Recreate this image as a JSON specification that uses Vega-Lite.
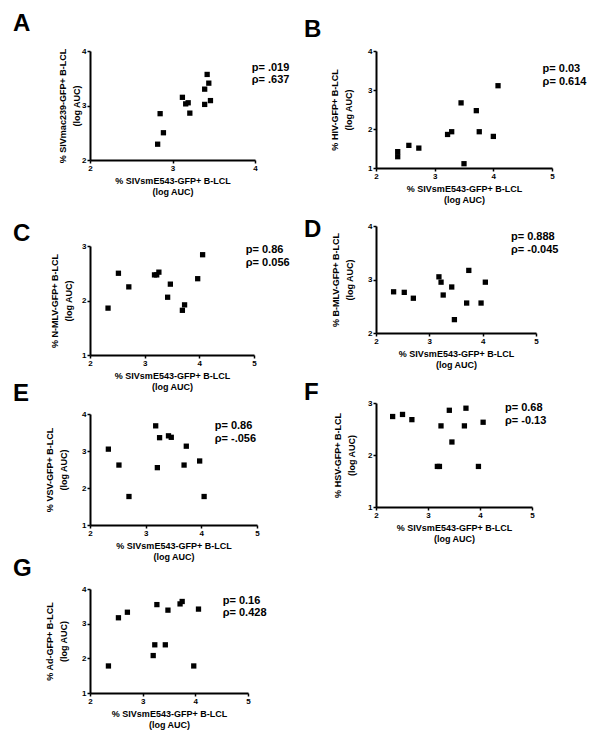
{
  "$schema": "https://vega.github.io/schema/vega-lite/v6.json",
  "padding": {"left": 13, "top": 12, "right": 5, "bottom": 5},
  "background": "white",
  "config": {
    "font": "Liberation Sans",
    "view": {"stroke": null},
    "axis": {"grid": false, "tickCount": 20, "labelExpr": "'' + datum.value", "labelOverlap": false, "labelBound": false, "domainColor": "black", "domainWidth": 2, "tickColor": "black", "tickWidth": 1.5, "tickSize": 3, "labelFont": "Liberation Sans", "labelFontWeight": "bold", "labelFontSize": 8, "labelColor": "black", "labelPadding": 1, "labelFlush": false, "titleFont": "Liberation Sans", "titleFontWeight": "bold", "titleFontSize": 9, "titleColor": "black"},
    "axisX": {"titlePadding": 4, "titleLineHeight": 11},
    "axisY": {"titleLineHeight": 14, "titlePadding": 2},
    "title": {"font": "Liberation Sans", "fontSize": 24, "fontWeight": "bold", "anchor": "start", "frame": "group", "color": "black", "offset": 0},
    "text": {"font": "Liberation Sans"}
  },
  "bounds": "flush",
  "spacing": 286,
  "hconcat": [
    {
      "bounds": "flush",
      "spacing": 86,
      "vconcat": [
        {
          "width": 165, "height": 109,
          "title": {"text": "A", "dx": -77, "dy": -7},
          "layer": [
            {
              "data": {"values": [
                {"x": 2.82, "y": 2.29}, {"x": 2.85, "y": 2.85}, {"x": 2.89, "y": 2.50}, {"x": 3.12, "y": 3.15},
                {"x": 3.16, "y": 3.03}, {"x": 3.19, "y": 3.05}, {"x": 3.21, "y": 2.86}, {"x": 3.39, "y": 3.30},
                {"x": 3.39, "y": 3.02}, {"x": 3.42, "y": 3.57}, {"x": 3.44, "y": 3.41}, {"x": 3.46, "y": 3.09}
              ]},
              "mark": {"type": "point", "shape": "square", "filled": true, "color": "black", "size": 28, "opacity": 1},
              "encoding": {
                "x": {"field": "x", "type": "quantitative", "scale": {"domain": [2, 4], "nice": false, "zero": false}, "axis": {"values": [2, 3, 4], "tickCount": 20, "labelExpr": "'' + datum.value", "labelOverlap": false, "title": ["% SIVsmE543-GFP+ B-LCL", "(log AUC)"]}},
                "y": {"field": "y", "type": "quantitative", "scale": {"domain": [2, 4], "nice": false, "zero": false}, "axis": {"values": [2, 3, 4], "tickCount": 20, "labelExpr": "'' + datum.value", "labelOverlap": false, "title": ["% SIVmac239-GFP+ B-LCL", "(log AUC)"], "titlePadding": 0}}
              }
            },
            {
              "data": {"values": [{"label": "p= .019\nρ= .637"}]},
              "mark": {"type": "text", "align": "left", "baseline": "alphabetic", "fontSize": 11, "fontWeight": "bold", "color": "black", "lineBreak": "\n", "lineHeight": 12.5},
              "encoding": {"x": {"datum": 3.96, "type": "quantitative"}, "y": {"datum": 3.64, "type": "quantitative"}, "text": {"field": "label"}}
            }
          ]
        },
        {
          "bounds": "flush",
          "spacing": 59,
          "vconcat": [
            {
              "width": 164, "height": 109,
              "title": {"text": "C", "dx": -77, "dy": 8},
              "layer": [
                {
                  "data": {"values": [
                    {"x": 2.33, "y": 1.86}, {"x": 2.52, "y": 2.50}, {"x": 2.71, "y": 2.25}, {"x": 3.18, "y": 2.47},
                    {"x": 3.22, "y": 2.47}, {"x": 3.26, "y": 2.52}, {"x": 3.47, "y": 2.30}, {"x": 3.42, "y": 2.06},
                    {"x": 3.69, "y": 1.82}, {"x": 3.73, "y": 1.92}, {"x": 3.97, "y": 2.40}, {"x": 4.06, "y": 2.84}
                  ]},
                  "mark": {"type": "point", "shape": "square", "filled": true, "color": "black", "size": 28, "opacity": 1},
                  "encoding": {
                    "x": {"field": "x", "type": "quantitative", "scale": {"domain": [2, 5], "nice": false, "zero": false}, "axis": {"values": [2, 3, 4, 5], "tickCount": 20, "labelExpr": "'' + datum.value", "labelOverlap": false, "title": ["% SIVsmE543-GFP+ B-LCL", "(log AUC)"]}},
                    "y": {"field": "y", "type": "quantitative", "scale": {"domain": [1, 3], "nice": false, "zero": false}, "axis": {"values": [1, 2, 3], "tickCount": 20, "labelExpr": "'' + datum.value", "labelOverlap": false, "title": ["% N-MLV-GFP+ B-LCL", "(log AUC)"], "titlePadding": 8}}
                  }
                },
                {
                  "data": {"values": [{"label": "p= 0.86\nρ= 0.056"}]},
                  "mark": {"type": "text", "align": "left", "baseline": "alphabetic", "fontSize": 11, "fontWeight": "bold", "color": "black", "lineBreak": "\n", "lineHeight": 12.5},
                  "encoding": {"x": {"datum": 4.85, "type": "quantitative"}, "y": {"datum": 2.87, "type": "quantitative"}, "text": {"field": "label"}}
                }
              ]
            },
            {
              "bounds": "flush",
              "spacing": 64,
              "vconcat": [
                {
                  "width": 167, "height": 111,
                  "title": {"text": "E", "dx": -77, "dy": 0},
                  "layer": [
                    {
                      "data": {"values": [
                        {"x": 2.33, "y": 3.05}, {"x": 2.52, "y": 2.62}, {"x": 2.70, "y": 1.77}, {"x": 3.18, "y": 3.68},
                        {"x": 3.21, "y": 2.55}, {"x": 3.25, "y": 3.36}, {"x": 3.41, "y": 3.41}, {"x": 3.46, "y": 3.37},
                        {"x": 3.69, "y": 2.62}, {"x": 3.73, "y": 3.13}, {"x": 3.97, "y": 2.73}, {"x": 4.05, "y": 1.77}
                      ]},
                      "mark": {"type": "point", "shape": "square", "filled": true, "color": "black", "size": 28, "opacity": 1},
                      "encoding": {
                        "x": {"field": "x", "type": "quantitative", "scale": {"domain": [2, 5], "nice": false, "zero": false}, "axis": {"values": [2, 3, 4, 5], "tickCount": 20, "labelExpr": "'' + datum.value", "labelOverlap": false, "title": ["% SIVsmE543-GFP+ B-LCL", "(log AUC)"]}},
                        "y": {"field": "y", "type": "quantitative", "scale": {"domain": [1, 4], "nice": false, "zero": false}, "axis": {"values": [1, 2, 3, 4], "tickCount": 20, "labelExpr": "'' + datum.value", "labelOverlap": false, "title": ["% VSV-GFP+ B-LCL", "(log AUC)"], "titlePadding": 13}}
                      }
                    },
                    {
                      "data": {"values": [{"label": "p= 0.86\nρ= -.056"}]},
                      "mark": {"type": "text", "align": "left", "baseline": "alphabetic", "fontSize": 11, "fontWeight": "bold", "color": "black", "lineBreak": "\n", "lineHeight": 12.5},
                      "encoding": {"x": {"datum": 4.24, "type": "quantitative"}, "y": {"datum": 3.59, "type": "quantitative"}, "text": {"field": "label"}}
                    }
                  ]
                },
                {
                  "width": 158, "height": 104,
                  "title": {"text": "G", "dx": -77, "dy": 0},
                  "layer": [
                    {
                      "data": {"values": [
                        {"x": 2.35, "y": 1.78}, {"x": 2.54, "y": 3.17}, {"x": 2.71, "y": 3.33}, {"x": 3.20, "y": 2.08},
                        {"x": 3.23, "y": 2.39}, {"x": 3.27, "y": 3.55}, {"x": 3.43, "y": 2.39}, {"x": 3.48, "y": 3.39},
                        {"x": 3.71, "y": 3.57}, {"x": 3.75, "y": 3.64}, {"x": 3.97, "y": 1.78}, {"x": 4.06, "y": 3.42}
                      ]},
                      "mark": {"type": "point", "shape": "square", "filled": true, "color": "black", "size": 28, "opacity": 1},
                      "encoding": {
                        "x": {"field": "x", "type": "quantitative", "scale": {"domain": [2, 5], "nice": false, "zero": false}, "axis": {"values": [2, 3, 4, 5], "tickCount": 20, "labelExpr": "'' + datum.value", "labelOverlap": false, "title": ["% SIVsmE543-GFP+ B-LCL", "(log AUC)"]}},
                        "y": {"field": "y", "type": "quantitative", "scale": {"domain": [1, 4], "nice": false, "zero": false}, "axis": {"values": [1, 2, 3, 4], "tickCount": 20, "labelExpr": "'' + datum.value", "labelOverlap": false, "title": ["% Ad-GFP+ B-LCL", "(log AUC)"], "titlePadding": 13}}
                      }
                    },
                    {
                      "data": {"values": [{"label": "p= 0.16\nρ= 0.428"}]},
                      "mark": {"type": "text", "align": "left", "baseline": "alphabetic", "fontSize": 11, "fontWeight": "bold", "color": "black", "lineBreak": "\n", "lineHeight": 12.5},
                      "encoding": {"x": {"datum": 4.52, "type": "quantitative"}, "y": {"datum": 3.57, "type": "quantitative"}, "text": {"field": "label"}}
                    }
                  ]
                }
              ]
            }
          ]
        }
      ]
    },
    {
      "bounds": "flush",
      "spacing": 58,
      "vconcat": [
        {
          "width": 176, "height": 117,
          "title": {"text": "B", "dx": -72, "dy": -1},
          "layer": [
            {
              "data": {"values": [
                {"x": 2.37, "y": 1.29}, {"x": 2.37, "y": 1.42}, {"x": 2.56, "y": 1.58}, {"x": 2.73, "y": 1.51},
                {"x": 3.22, "y": 1.86}, {"x": 3.29, "y": 1.93}, {"x": 3.45, "y": 2.67}, {"x": 3.50, "y": 1.11},
                {"x": 3.71, "y": 2.47}, {"x": 3.76, "y": 1.93}, {"x": 4.00, "y": 1.81}, {"x": 4.08, "y": 3.11}
              ]},
              "mark": {"type": "point", "shape": "square", "filled": true, "color": "black", "size": 28, "opacity": 1},
              "encoding": {
                "x": {"field": "x", "type": "quantitative", "scale": {"domain": [2, 5], "nice": false, "zero": false}, "axis": {"values": [2, 3, 4, 5], "tickCount": 20, "labelExpr": "'' + datum.value", "labelOverlap": false, "title": ["% SIVsmE543-GFP+ B-LCL", "(log AUC)"]}},
                "y": {"field": "y", "type": "quantitative", "scale": {"domain": [1, 4], "nice": false, "zero": false}, "axis": {"values": [1, 2, 3, 4], "tickCount": 20, "labelExpr": "'' + datum.value", "labelOverlap": false, "title": ["% HIV-GFP+ B-LCL", "(log AUC)"], "titlePadding": 14}}
              }
            },
            {
              "data": {"values": [{"label": "p= 0.03\nρ= 0.614"}]},
              "mark": {"type": "text", "align": "left", "baseline": "alphabetic", "fontSize": 11, "fontWeight": "bold", "color": "black", "lineBreak": "\n", "lineHeight": 12.5},
              "encoding": {"x": {"datum": 4.84, "type": "quantitative"}, "y": {"datum": 3.46, "type": "quantitative"}, "text": {"field": "label"}}
            }
          ]
        },
        {
          "bounds": "flush",
          "spacing": 70,
          "vconcat": [
            {
              "width": 160, "height": 107,
              "title": {"text": "D", "dx": -72, "dy": 24},
              "layer": [
                {
                  "data": {"values": [
                    {"x": 2.33, "y": 2.77}, {"x": 2.53, "y": 2.76}, {"x": 2.70, "y": 2.65}, {"x": 3.18, "y": 3.05},
                    {"x": 3.22, "y": 2.95}, {"x": 3.26, "y": 2.71}, {"x": 3.42, "y": 2.86}, {"x": 3.47, "y": 2.25},
                    {"x": 3.70, "y": 2.56}, {"x": 3.74, "y": 3.17}, {"x": 3.97, "y": 2.56}, {"x": 4.05, "y": 2.95}
                  ]},
                  "mark": {"type": "point", "shape": "square", "filled": true, "color": "black", "size": 28, "opacity": 1},
                  "encoding": {
                    "x": {"field": "x", "type": "quantitative", "scale": {"domain": [2, 5], "nice": false, "zero": false}, "axis": {"values": [2, 3, 4, 5], "tickCount": 20, "labelExpr": "'' + datum.value", "labelOverlap": false, "title": ["% SIVsmE543-GFP+ B-LCL", "(log AUC)"]}},
                    "y": {"field": "y", "type": "quantitative", "scale": {"domain": [2, 4], "nice": false, "zero": false}, "axis": {"values": [2, 3, 4], "tickCount": 20, "labelExpr": "'' + datum.value", "labelOverlap": false, "title": ["% B-MLV-GFP+ B-LCL", "(log AUC)"], "titlePadding": 13}}
                  }
                },
                {
                  "data": {"values": [{"label": "p= 0.888\nρ= -0.045"}]},
                  "mark": {"type": "text", "align": "left", "baseline": "alphabetic", "fontSize": 11, "fontWeight": "bold", "color": "black", "lineBreak": "\n", "lineHeight": 12.5},
                  "encoding": {"x": {"datum": 4.53, "type": "quantitative"}, "y": {"datum": 3.73, "type": "quantitative"}, "text": {"field": "label"}}
                }
              ]
            },
            {
              "width": 156, "height": 104,
              "title": {"text": "F", "dx": -72, "dy": 10},
              "layer": [
                {
                  "data": {"values": [
                    {"x": 2.32, "y": 2.74}, {"x": 2.51, "y": 2.78}, {"x": 2.69, "y": 2.68}, {"x": 3.18, "y": 1.78},
                    {"x": 3.22, "y": 1.78}, {"x": 3.25, "y": 2.56}, {"x": 3.41, "y": 2.86}, {"x": 3.46, "y": 2.25},
                    {"x": 3.70, "y": 2.56}, {"x": 3.73, "y": 2.90}, {"x": 3.97, "y": 1.78}, {"x": 4.06, "y": 2.63}
                  ]},
                  "mark": {"type": "point", "shape": "square", "filled": true, "color": "black", "size": 28, "opacity": 1},
                  "encoding": {
                    "x": {"field": "x", "type": "quantitative", "scale": {"domain": [2, 5], "nice": false, "zero": false}, "axis": {"values": [2, 3, 4, 5], "tickCount": 20, "labelExpr": "'' + datum.value", "labelOverlap": false, "title": ["% SIVsmE543-GFP+ B-LCL", "(log AUC)"]}},
                    "y": {"field": "y", "type": "quantitative", "scale": {"domain": [1, 3], "nice": false, "zero": false}, "axis": {"values": [1, 2, 3], "tickCount": 20, "labelExpr": "'' + datum.value", "labelOverlap": false, "title": ["% HSV-GFP+ B-LCL", "(log AUC)"], "titlePadding": 11}}
                  }
                },
                {
                  "data": {"values": [{"label": "p= 0.68\nρ= -0.13"}]},
                  "mark": {"type": "text", "align": "left", "baseline": "alphabetic", "fontSize": 11, "fontWeight": "bold", "color": "black", "lineBreak": "\n", "lineHeight": 12.5},
                  "encoding": {"x": {"datum": 4.48, "type": "quantitative"}, "y": {"datum": 2.84, "type": "quantitative"}, "text": {"field": "label"}}
                }
              ]
            }
          ]
        }
      ]
    }
  ]
}
